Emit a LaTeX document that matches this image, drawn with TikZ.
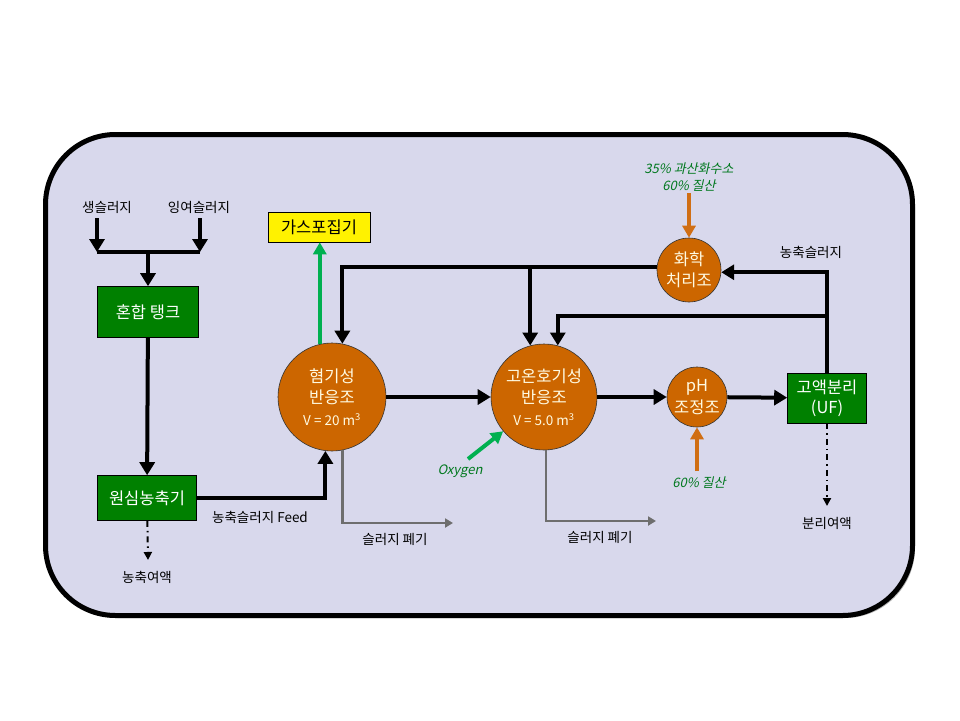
\documentclass[tikz,border=0pt]{standalone}
\usepackage{fontspec}
\setmainfont{Noto Sans CJK KR}
\newfontfamily\slantfont[FakeSlant=0.22]{Noto Sans CJK KR}
\usetikzlibrary{arrows.meta}

\definecolor{panel}{RGB}{216,216,236}
\definecolor{tankgreen}{RGB}{0,128,0}
\definecolor{reactor}{RGB}{204,102,0}
\definecolor{gasgreen}{RGB}{0,176,80}
\definecolor{dosing}{RGB}{208,110,20}
\definecolor{notegreen}{RGB}{0,120,30}
\definecolor{wastegray}{RGB}{110,110,110}
\definecolor{paletext}{RGB}{255,250,225}

\tikzset{
    tank/.style = {draw=black, line width=0.6pt, fill=tankgreen, text=white, align=center,
                   font=\fontsize{16.5}{20}\selectfont, inner sep=0pt},
    reactorbox/.style = {circle, draw=black!80, line width=0.6pt, fill=reactor, text=paletext,
                   align=center, font=\fontsize{16.5}{21.5}\selectfont, inner sep=0pt},
    lbl/.style = {font=\fontsize{13.5}{15}\selectfont, inner sep=0pt},
    note/.style = {font=\slantfont\fontsize{13}{16.5}\selectfont, text=notegreen, align=center, inner sep=0pt},
    flow/.style = {line width=4pt, -{Triangle[width=15pt,length=13pt]}},
    flowline/.style = {line width=4pt},
    gasflow/.style = {line width=4pt, gasgreen, -{Triangle[width=13pt,length=12pt]}},
    acidflow/.style = {line width=4pt, dosing, -{Triangle[width=13pt,length=12pt]}},
    wasteflow/.style = {line width=2.5pt, wastegray, -{Triangle[width=9pt,length=8pt]}},
    filtrate/.style = {line width=2pt, dash pattern=on 6pt off 4pt on 1.5pt off 4pt,
                   -{Triangle[width=8pt,length=8pt]}}
}

\begin{document}
\begin{tikzpicture}[x=1pt,y=-1pt]

    \useasboundingbox (0,0) rectangle (960,720);

    % panel
    \fill [gray!60, rounded corners=70pt] (48,138) rectangle (915,618);
    \draw [line width=5pt, fill=panel, rounded corners=70pt] (45.5,134.5) rectangle (912.5,615.5);

    % feed sludges
    \node [lbl] (raw) at (107,207) {생슬러지};
    \node [lbl] (excess) at (199,207) {잉여슬러지};
    \coordinate (rawout) at (97,218);
    \coordinate (excessout) at (200,218);
    \coordinate (mergeL) at (97,252);
    \coordinate (mergeR) at (200,252);
    \coordinate (merge) at (148,252);

    \node [tank, minimum width=101pt, minimum height=51pt] (mix) at (148,312) {혼합 탱크};
    \node [tank, minimum width=99pt, minimum height=45pt] (cent) at (147,498) {원심농축기};

    \draw [flow] (rawout) -- (mergeL);
    \draw [flow] (excessout) -- (mergeR);
    \draw [flowline] (mergeL) -- (mergeR);
    \draw [flow] (merge) -- (mix);
    \draw [flow] (mix) -- (cent);

    \coordinate (centout) at (148,560);
    \node [lbl] (centliq) at (147,577) {농축여액};
    \draw [filtrate] (cent) -- (centout);

    % reactors
    \node [reactorbox, minimum size=108pt] (anaer) at (332,397)
        {혐기성\\반응조\\{\fontsize{13.5}{21.5}\selectfont V = 20 m\textsuperscript{3}}};
    \node [reactorbox, minimum size=106pt] (aer) at (544,397)
        {고온호기성\\반응조\\{\fontsize{13.5}{21.5}\selectfont V = 5.0 m\textsuperscript{3}}};
    \node [reactorbox, minimum size=60pt] (ph) at (697,397) {pH\\조정조};
    \node [reactorbox, minimum size=64pt] (chem) at (689,270) {화학\\처리조};
    \node [tank, minimum width=79pt, minimum height=50pt] (uf) at (827,398) {고액분리\\(UF)};
    \node [draw=black, line width=0.6pt, fill=yellow, minimum width=102pt, minimum height=30pt,
           font=\fontsize{16.5}{18}\selectfont, inner sep=0pt] (gas) at (319,227) {가스포집기};

    \draw [flow] (cent.east) -| (anaer.263);
    \node [lbl] (feedlbl) at (260,517) {농축슬러지 Feed};

    \draw [gasflow] (anaer.103) -- (anaer.103 |- gas.south);

    \draw [flow] (anaer) -- (aer);
    \draw [flow] (aer) -- (ph);
    \draw [flow] (ph) -- (uf);

    % recycle from UF
    \draw [flow] (uf.north) |- (chem.-4);
    \node [lbl] (conclbl) at (811,252) {농축슬러지};
    \coordinate (recycle) at (827,316);
    \draw [flow] (recycle) -| (aer.75);

    % treated sludge back to reactors
    \draw [flow] (chem.175) -| (anaer.79);
    \draw [flow] (aer.105 |- chem.175) -- (aer.105);

    % chemicals
    \node [note] (peroxide) at (689,177) {35\% 과산화수소\\60\% 질산};
    \coordinate (chemin) at (689,193);
    \draw [acidflow] (chemin) -- (chem);

    \coordinate (acidin) at (697,471);
    \node [note] (nitric) at (699,483) {60\% 질산};
    \draw [acidflow] (acidin) -- (ph);

    \node [note] (oxy) at (460,471) {Oxygen};
    \coordinate (oxyin) at (468,459);
    \draw [gasflow] (oxyin) -- (aer.220);

    % waste sludge
    \coordinate (waste1) at (453,523);
    \coordinate (waste2) at (656,521);
    \draw [wasteflow] (anaer.281) |- (waste1);
    \draw [wasteflow] (aer.272) |- (waste2);
    \node [lbl] (waste1lbl) at (395,539) {슬러지 폐기};
    \node [lbl] (waste2lbl) at (600,537) {슬러지 폐기};

    \coordinate (ufout) at (827,506);
    \node [lbl] (ufliq) at (827,523) {분리여액};
    \draw [filtrate] (uf) -- (ufout);

\end{tikzpicture}
\end{document}
